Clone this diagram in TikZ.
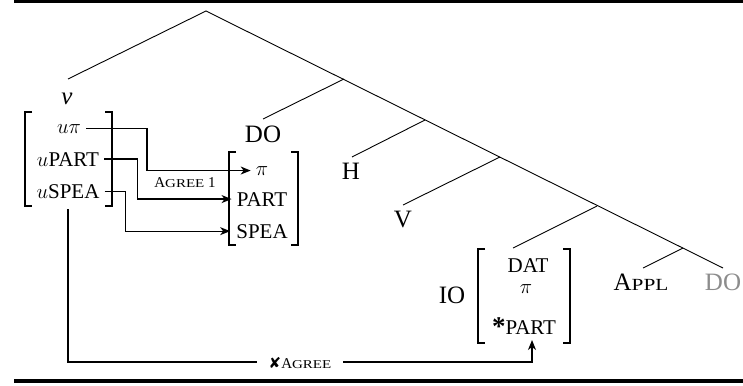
\documentclass[tikz,border=0pt]{standalone}
\usepackage{fontspec}
\setmainfont{Liberation Serif}
\newfontfamily\symfont{DejaVu Sans}
% widened capitals standing in for small capitals
\newfontfamily\scfont[FakeStretch=1.25]{Liberation Serif}
\usetikzlibrary{arrows.meta,calc}

% font sizes
\newcommand\labsize{\fontsize{25}{30}\selectfont}
\newcommand\featsize{\fontsize{21}{25}\selectfont}
\newcommand\smallcaps[1]{{\scfont\fontsize{12}{14}\selectfont #1}}

\definecolor{greyDO}{RGB}{140,140,140}

\tikzset{
  branch/.style={line width=0.9pt},
  treelab/.style={font=\labsize, inner sep=0pt, anchor=base},
  feat/.style={font=\featsize, inner sep=0pt, anchor=base},
  link/.style={line width=1.3pt, -{Stealth[length=10pt,width=8pt,inset=3pt]}},
  brk/.style={line width=1.6pt},
}

\begin{document}
\begin{tikzpicture}[x=1pt,y=-1pt]
\useasboundingbox (0,0) rectangle (743,385);

% horizontal rules
\draw[line width=3.5pt] (14,1.75) -- (743,1.75);
\draw[line width=4.5pt] (14,381) -- (743,381);

% tree skeleton
\coordinate (r)  at (206,11);
\coordinate (j1) at (344,79);
\coordinate (j2) at (425,120);
\coordinate (j3) at (500,157);
\coordinate (j4) at (597,206);
\coordinate (j5) at (683,248);
\coordinate (ev)   at (68,79);
\coordinate (edo)  at (263,119);
\coordinate (eh)   at (352,157);
\coordinate (eV)   at (403,205);
\coordinate (eio)  at (513,248);
\coordinate (eap)  at (643,268);
\coordinate (edo2) at (723,268);

\draw[branch] (ev) -- (r) -- (edo2);
\draw[branch] (j1) -- (edo);
\draw[branch] (j2) -- (eh);
\draw[branch] (j3) -- (eV);
\draw[branch] (j4) -- (eio);
\draw[branch] (j5) -- (eap);

% tree labels
\node[treelab] (v)   at (67,104)  {\textit{v}};
\node[treelab] (do)  at (263,142) {DO};
\node[treelab] (h)   at (351,179) {H};
\node[treelab] (V)   at (403,227) {V};
\node[treelab] (io)  at (452,303) {IO};
\node[treelab] (appl) at (641,290) {A{\scfont\fontsize{17}{20}\selectfont PPL}};
\node[treelab, text=greyDO] (dolow) at (723,290) {DO};

% probe features on v
\node[feat] (upi)   at (69,133) {$u\pi$};
\node[feat] (upart) at (68,166) {$u$PART};
\node[feat] (uspea) at (68,198) {$u$SPEA};
\draw[brk] (32,112) -- (25,112) -- (25,206) -- (32,206);
\draw[brk] (105,112) -- (112,112) -- (112,206) -- (105,206);

% goal features on DO
\node[feat] (dpi)   at (262,175) {$\pi$};
\node[feat] (dpart) at (262,206) {PART};
\node[feat] (dspea) at (262,238) {SPEA};
\draw[brk] (236,152) -- (229,152) -- (229,245) -- (236,245);
\draw[brk] (291,152) -- (298,152) -- (298,245) -- (291,245);

% features on IO
\node[feat] (idat)  at (528,272) {DAT};
\node[feat] (ipi)   at (526,293) {$\pi$};
\node[feat] (ipart) at (524,334) {\raisebox{-1pt}{\fontsize{27}{27}\selectfont\bfseries *}PART};
\draw[brk] (485,249) -- (478,249) -- (478,343) -- (485,343);
\draw[brk] (563,249) -- (570,249) -- (570,343) -- (563,343);

% successful agreement
\draw[link] ([xshift=5pt]upi.east) -- ++(61,0) |- ([xshift=-5pt]dpi.west);
\draw[link] ([xshift=5pt]upart.east) -- ++(33,0) |- ([xshift=-5pt]dpart.west);
\draw[link] ([xshift=5pt]uspea.east) -- ++(21,0) |- ([xshift=-6pt]dspea.west);
\node[inner sep=0pt] (agree1) at (185,183)
  {{\fontsize{15}{18}\selectfont A}\smallcaps{GREE}{\fontsize{15}{18}\selectfont\ 1}};

% failed agreement with IO
\coordinate (fail) at ($(uspea.base)+(0,11)$);
\coordinate (tip)  at ($(ipart.base)+(8,6)$);
\draw[link] (fail) |- ($(tip)+(0,22)$) -- (tip);
\node[fill=white, inner xsep=12pt, inner ysep=2pt] (xagree) at (300,363)
  {{\symfont\fontsize{15}{17}\selectfont ✘}{\fontsize{15}{18}\selectfont A}\smallcaps{GREE}};

\end{tikzpicture}
\end{document}
